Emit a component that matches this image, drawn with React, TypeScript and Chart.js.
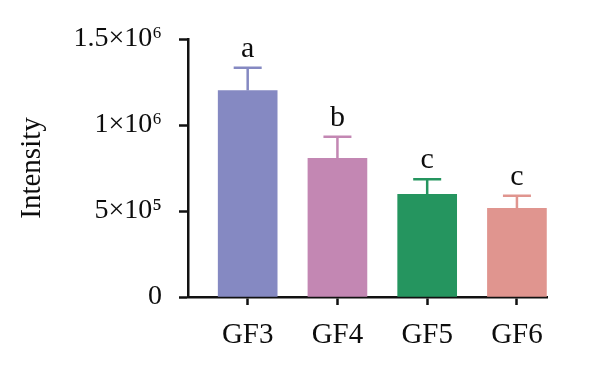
import React, { useEffect, useRef } from "react";
import { Chart, registerables } from "chart.js";

Chart.register(...registerables);

const categories = ["GF3", "GF4", "GF5", "GF6"];
const means = [1200000, 806000, 597000, 516000];
const errors = [133000, 126000, 87000, 73000];
const letters = ["a", "b", "c", "c"];
const barColors = ["#8589C2", "#C387B3", "#25955F", "#E0958F"];
const yTickValues = [0, 500000, 1000000, 1500000];
const yTickLabels = ["0", "5×10⁵", "1×10⁶", "1.5×10⁶"];
const positions = [1, 2, 3, 4];

const FONT = "'Liberation Serif', 'Times New Roman', serif";

const errorPlugin = {
  id: "errorBars",
  afterDatasetsDraw(chart: any) {
    const ctx = chart.ctx;
    const xs = chart.scales.x;
    const ys = chart.scales.y;
    ctx.save();
    positions.forEach((p, i) => {
      const x = xs.getPixelForValue(p);
      const yMean = ys.getPixelForValue(means[i]);
      const yTop = ys.getPixelForValue(means[i] + errors[i]);
      ctx.strokeStyle = barColors[i];
      ctx.lineWidth = 2.5;
      ctx.beginPath();
      ctx.moveTo(x, yMean);
      ctx.lineTo(x, yTop);
      ctx.moveTo(x - 14, yTop);
      ctx.lineTo(x + 14, yTop);
      ctx.stroke();
      ctx.fillStyle = "#0d0d0d";
      ctx.font = `30px ${FONT}`;
      ctx.textAlign = "center";
      ctx.textBaseline = "alphabetic";
      ctx.fillText(letters[i], x, yTop - 11);
    });
    ctx.restore();
  },
};

export default function App() {
  const ref = useRef<HTMLCanvasElement>(null);
  useEffect(() => {
    if (!ref.current) return;
    const chart = new Chart(ref.current, {
      type: "bar",
      data: {
        datasets: [
          {
            data: positions.map((p, i) => ({ x: p, y: means[i] })),
            backgroundColor: barColors,
            barThickness: 59,
          },
        ],
      },
      options: {
        animation: false,
        responsive: true,
        maintainAspectRatio: false,
        layout: { padding: { top: 39, right: 53, left: 0, bottom: 0 } },
        plugins: { legend: { display: false }, tooltip: { enabled: false } },
        scales: {
          x: {
            type: "linear",
            offset: false,
            min: 0.335,
            max: 4.335,
            afterBuildTicks: (scale: any) => {
              scale.ticks = positions.map((v) => ({ value: v }));
            },
            afterFit: (scale: any) => {
              scale.height = 71;
            },
            ticks: {
              autoSkip: false,
              maxRotation: 0,
              color: "#0d0d0d",
              padding: 13,
              font: { family: FONT, size: 29 },
              callback: (v: any) => categories[positions.indexOf(Number(v))] ?? "",
            },
            grid: {
              offset: false,
              drawOnChartArea: false,
              drawTicks: true,
              tickLength: 8,
              tickWidth: 2.5,
              color: "#111",
            },
            border: { display: true, color: "#111", width: 2.5 },
          },
          y: {
            min: 0,
            max: 1500000,
            afterBuildTicks: (scale: any) => {
              scale.ticks = yTickValues.map((v) => ({ value: v }));
            },
            afterFit: (scale: any) => {
              scale.width = 188;
            },
            ticks: {
              color: "#0d0d0d",
              padding: 17,
              font: { family: FONT, size: 28 },
              callback: (v: any) => yTickLabels[yTickValues.indexOf(Number(v))] ?? "",
            },
            grid: {
              drawOnChartArea: false,
              drawTicks: true,
              tickLength: 9,
              tickWidth: 2.5,
              color: "#111",
            },
            border: { display: true, color: "#111", width: 2.5 },
            title: {
              display: true,
              text: "Intensity",
              color: "#0d0d0d",
              font: { family: FONT, size: 29 },
              padding: { top: 15, bottom: 0 },
            },
          },
        },
      },
      plugins: [errorPlugin],
    });
    return () => chart.destroy();
  }, []);
  return (
    <div style={{ position: "fixed", left: 0, top: 0, width: 600, height: 368, background: "#fff" }}>
      <canvas ref={ref} />
    </div>
  );
}
